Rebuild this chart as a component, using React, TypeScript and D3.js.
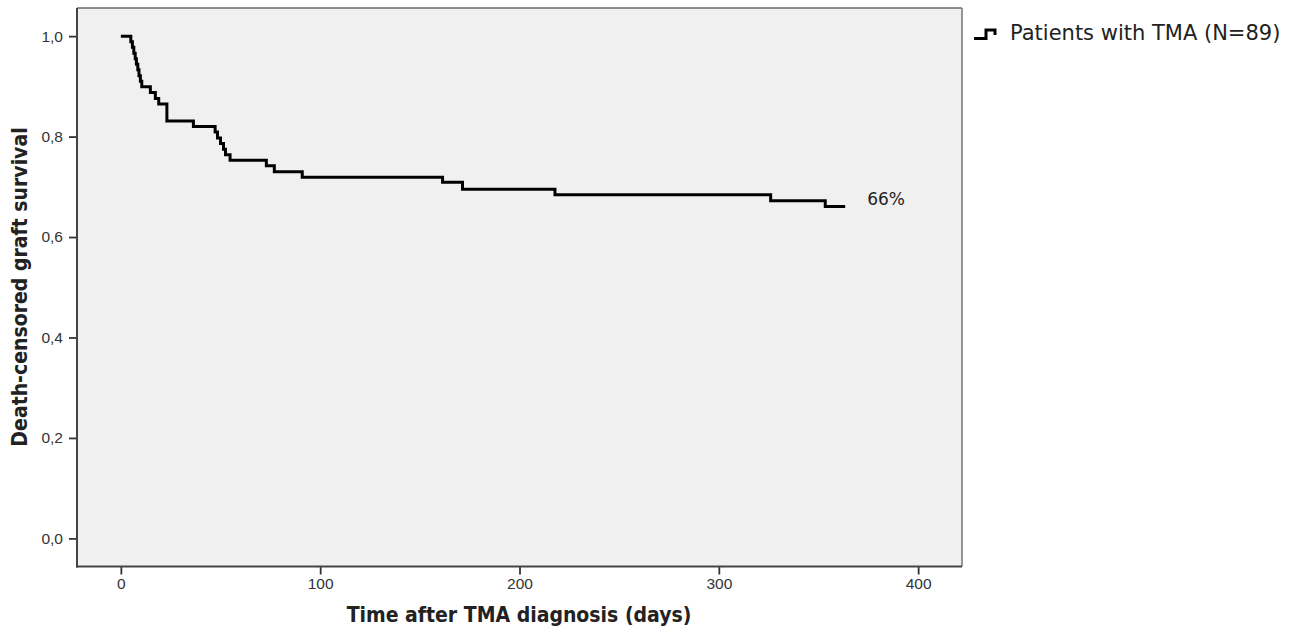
import React, { useEffect, useRef } from 'react';
import * as d3 from 'd3';

// Kaplan-Meier steps (days, survival)
const eventDays = [0, 5, 5.8, 6.5, 7.2, 7.8, 8.5, 9.1, 9.8, 10.5, 14.8, 17.3, 19, 23.1, 36.4, 47.3, 48.5, 50, 51.5, 52.5, 54.8, 73, 77, 91, 161.4, 171.4, 217.8, 326, 353.4];
const survival = [1, 0.989, 0.978, 0.966, 0.955, 0.944, 0.933, 0.921, 0.91, 0.899, 0.888, 0.876, 0.865, 0.831, 0.82, 0.809, 0.797, 0.786, 0.775, 0.764, 0.753, 0.742, 0.73, 0.719, 0.709, 0.695, 0.684, 0.672, 0.661];
const lastFollowUp = 363.4;

const xTicks = [0, 100, 200, 300, 400];
const yTicks = [0, 0.2, 0.4, 0.6, 0.8, 1.0];

const legendLabel = 'Patients with TMA (N=89)';
const endLabel = '66%';
const xTitle = 'Time after TMA diagnosis (days)';
const yTitle = 'Death-censored graft survival';

const App = () => {
  const chartRef = useRef<SVGSVGElement>(null);

  useEffect(() => {
    const svg = d3.select(chartRef.current);
    svg.selectAll('*').remove();

    const left = 77, right = 962, top = 8, bottom = 566.5;
    const font = 'Liberation Sans, Arial, sans-serif';
    const wide = 'DejaVu Sans, sans-serif';
    const narrow = 'DejaVu Sans Condensed, Liberation Sans Narrow, sans-serif';

    const x = d3.scaleLinear().domain([-22, 422]).range([left, right]);
    const y = d3.scaleLinear().domain([-0.056, 1.056]).range([bottom, top]);

    // plot background
    svg.append('rect')
      .attr('x', left).attr('y', top)
      .attr('width', right - left).attr('height', bottom - top)
      .attr('fill', '#f0f0f0');

    // frame
    svg.append('line').attr('x1', left).attr('x2', right).attr('y1', top).attr('y2', top)
      .attr('stroke', '#222').attr('stroke-width', 1.2);
    svg.append('line').attr('x1', right).attr('x2', right).attr('y1', top).attr('y2', bottom)
      .attr('stroke', '#8a8a8a').attr('stroke-width', 1.8);

    const fmt = (d: number) => d3.format('.1f')(d).replace('.', ',');

    const xAxis = svg.append('g')
      .attr('transform', `translate(0,${bottom})`)
      .call(d3.axisBottom(x).tickValues(xTicks).tickSize(8).tickSizeOuter(0).tickPadding(3));
    const yAxis = svg.append('g')
      .attr('transform', `translate(${left},0)`)
      .call(d3.axisLeft(y).tickValues(yTicks).tickFormat(fmt as any).tickSize(8).tickSizeOuter(0).tickPadding(6));

    [xAxis, yAxis].forEach((g) => {
      g.select('.domain').remove();
      g.selectAll('line').attr('stroke', '#333').attr('stroke-width', 1.8);
      g.selectAll('text').attr('fill', '#333').attr('font-family', font).attr('font-size', 15.5);
    });

    svg.append('line').attr('x1', left).attr('x2', left).attr('y1', top).attr('y2', bottom + 1)
      .attr('stroke', '#444').attr('stroke-width', 2);
    svg.append('line').attr('x1', left - 1).attr('x2', right).attr('y1', bottom).attr('y2', bottom)
      .attr('stroke', '#444').attr('stroke-width', 2);

    // survival curve
    const pts: [number, number][] = eventDays.map((d, i) => [d, survival[i]]);
    pts.push([lastFollowUp, survival[survival.length - 1]]);
    const line = d3.line<[number, number]>()
      .x((d) => x(d[0]))
      .y((d) => y(d[1]))
      .curve(d3.curveStepAfter);
    svg.append('path')
      .attr('d', line(pts))
      .attr('fill', 'none')
      .attr('stroke', '#000')
      .attr('stroke-width', 3)
      .attr('stroke-linejoin', 'miter');

    svg.append('text')
      .attr('x', x(lastFollowUp) + 22)
      .attr('y', y(survival[survival.length - 1]) - 1)
      .attr('font-family', wide).attr('font-size', 17).attr('fill', '#222')
      .text(endLabel);

    // legend
    svg.append('path')
      .attr('d', 'M974,38.5 H986 V30 H995 V35')
      .attr('fill', 'none').attr('stroke', '#000').attr('stroke-width', 3);
    svg.append('text')
      .attr('x', 1010).attr('y', 40)
      .attr('font-family', wide).attr('font-size', 21).attr('fill', '#222')
      .text(legendLabel);

    // axis titles
    svg.append('text')
      .attr('x', 519).attr('y', 622)
      .attr('text-anchor', 'middle')
      .attr('font-family', narrow).attr('font-size', 21).attr('font-weight', 'bold').attr('fill', '#222')
      .text(xTitle);
    svg.append('text')
      .attr('transform', 'translate(27,287) rotate(-90)')
      .attr('text-anchor', 'middle')
      .attr('font-family', narrow).attr('font-size', 21).attr('font-weight', 'bold').attr('fill', '#222')
      .text(yTitle);

    return () => {
      d3.select(chartRef.current).selectAll('*').remove();
    };
  }, []);

  return (
    <svg
      ref={chartRef}
      width={1300}
      height={630}
      style={{ position: 'absolute', left: 0, top: 0, background: '#fff' }}
    />
  );
};

export default App;
